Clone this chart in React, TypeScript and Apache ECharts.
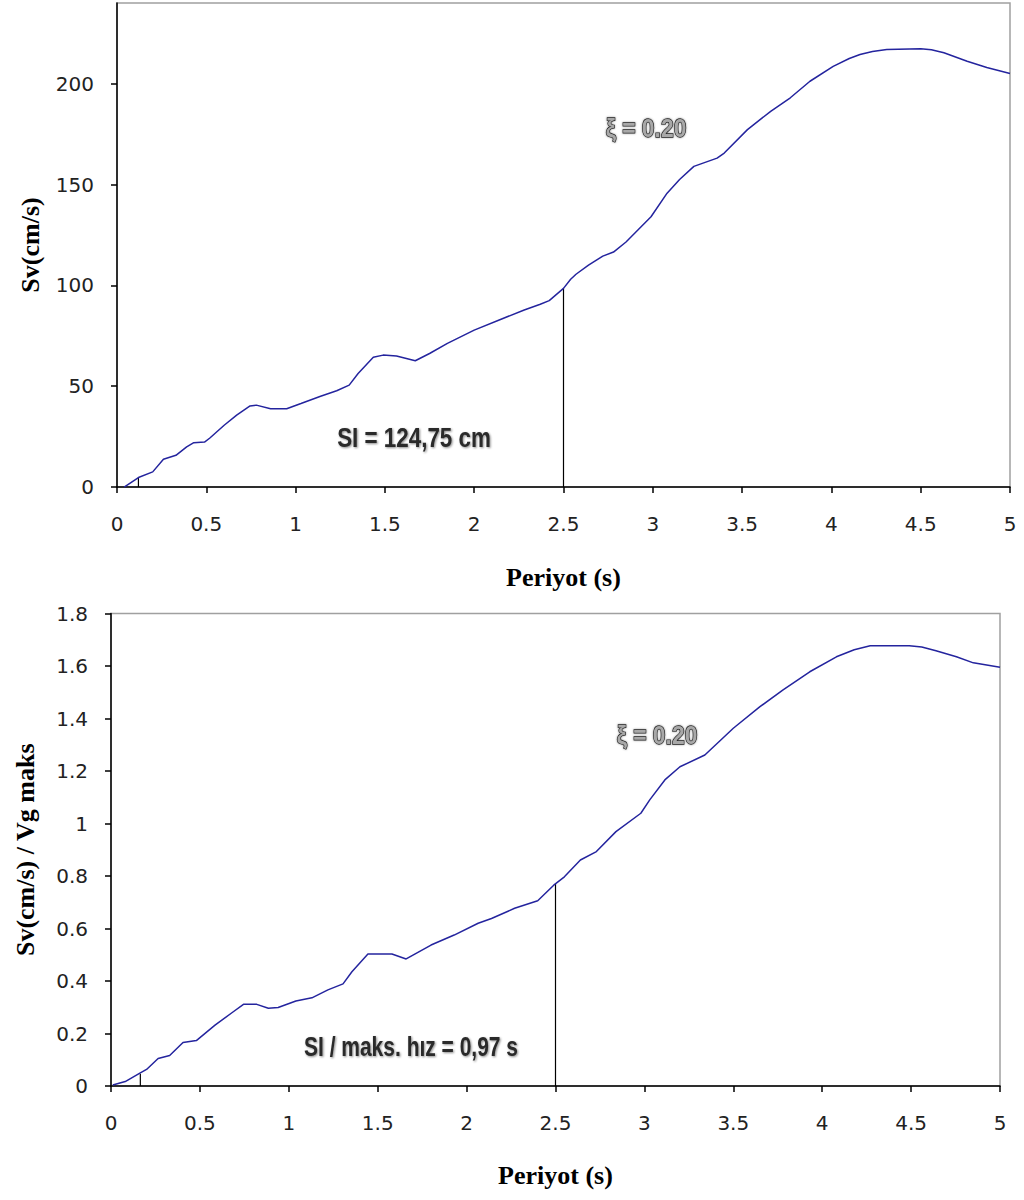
import React, { useEffect, useRef } from "react";
import * as echarts from "echarts";

// Top chart: Sv (cm/s) vs period
const topPeriods = [0.04, 0.12, 0.2, 0.26, 0.33, 0.39, 0.43, 0.49, 0.52, 0.6, 0.67, 0.745, 0.78, 0.86, 0.95, 1.03, 1.14, 1.23, 1.3, 1.35, 1.435, 1.49, 1.565, 1.67, 1.75, 1.85, 2.0, 2.14, 2.28, 2.37, 2.42, 2.5, 2.54, 2.57, 2.64, 2.72, 2.78, 2.85, 2.99, 3.08, 3.15, 3.23, 3.36, 3.4, 3.53, 3.66, 3.77, 3.88, 4.01, 4.1, 4.16, 4.23, 4.31, 4.5, 4.56, 4.63, 4.76, 4.87, 5.0];
const topValues = [0, 4.7, 7.5, 13.8, 15.7, 19.9, 22, 22.3, 24.3, 30.6, 35.6, 40.2, 40.6, 38.8, 38.8, 41.4, 45, 47.7, 50.5, 56.3, 64.3, 65.4, 65, 62.6, 66.2, 71.2, 77.8, 82.8, 87.8, 90.6, 92.4, 98.5, 103, 105.5, 110, 114.5, 116.5, 121.5, 134, 145.7, 152.5, 159, 163.1, 165.6, 177.2, 186.3, 193, 201.2, 208.6, 212.5, 214.5, 216, 217, 217.3, 216.8, 215.3, 211.1, 208, 205];
const topMarkerPeriods = [0.12, 2.5];
const topMarkerValues = [4.7, 98.5];
const topYTicks = [0, 50, 100, 150, 200];

// Bottom chart: Sv / Vg maks vs period
const botPeriods = [0.01, 0.08, 0.16, 0.2, 0.265, 0.33, 0.405, 0.48, 0.585, 0.68, 0.745, 0.82, 0.885, 0.94, 1.04, 1.13, 1.22, 1.305, 1.355, 1.445, 1.58, 1.66, 1.8, 1.93, 2.065, 2.14, 2.27, 2.4, 2.49, 2.55, 2.64, 2.73, 2.84, 2.98, 3.03, 3.115, 3.2, 3.34, 3.5, 3.65, 3.78, 3.93, 4.08, 4.18, 4.27, 4.49, 4.56, 4.64, 4.755, 4.85, 5.0];
const botValues = [0.004, 0.017, 0.048, 0.063, 0.105, 0.116, 0.166, 0.173, 0.232, 0.279, 0.311, 0.311, 0.296, 0.299, 0.324, 0.336, 0.366, 0.389, 0.435, 0.503, 0.503, 0.484, 0.537, 0.575, 0.62, 0.638, 0.677, 0.706, 0.765, 0.797, 0.861, 0.893, 0.969, 1.039, 1.09, 1.166, 1.216, 1.261, 1.363, 1.445, 1.509, 1.578, 1.635, 1.662, 1.677, 1.677, 1.672, 1.658, 1.635, 1.612, 1.595];
const botMarkerPeriods = [0.165, 2.5];
const botMarkerValues = [0.047, 0.77];

const xAxisTitle = "Periyot (s)";
const topYTitle = "Sv(cm/s)";
const botYTitle = "Sv(cm/s) / Vg maks";
const topNote = "SI = 124,75 cm";
const botNote = "SI / maks. hız = 0,97 s";
const dampNote = "ξ = 0.20";

const LINE_COLOR = "#24249e";
const tickFont = { fontFamily: "DejaVu Sans", fontSize: 20, color: "#222" };
const titleFont = { fontFamily: "Liberation Serif", fontWeight: "bold" as const, fontSize: 26, color: "#000" };

function xAxisFor(gridIndex: number) {
  return {
    type: "value",
    gridIndex,
    min: 0,
    max: 5,
    interval: 0.5,
    name: xAxisTitle,
    nameLocation: "middle",
    nameGap: 77,
    nameTextStyle: titleFont,
    axisLine: { show: true, onZero: false, lineStyle: { color: "#000", width: 1.5 } },
    axisTick: { show: true, inside: false, length: 6, lineStyle: { color: "#000", width: 1.5 } },
    axisLabel: { ...tickFont, margin: 27 },
    splitLine: { show: false },
  };
}

export default function App() {
  const ref = useRef<HTMLDivElement>(null);
  useEffect(() => {
    if (!ref.current) return;
    const chart = echarts.init(ref.current, null, { renderer: "svg" });
    const lineSeries = (xi: number, ts: number[], vs: number[]) => ({
      type: "line",
      xAxisIndex: xi,
      yAxisIndex: xi,
      data: ts.map((t, i) => [t, vs[i]]),
      showSymbol: false,
      symbol: "none",
      lineStyle: { color: LINE_COLOR, width: 1.5 },
      z: 3,
    });
    const markerSeries = (xi: number, ts: number[], vs: number[]) =>
      ts.map((t, i) => ({
        type: "line",
        xAxisIndex: xi,
        yAxisIndex: xi,
        data: [
          [t, 0],
          [t, vs[i]],
        ],
        showSymbol: false,
        symbol: "none",
        lineStyle: { color: "#000", width: 1.2 },
        z: 2,
      }));
    const noteText = (text: string, x: number, y: number, sx: number) => ({
      type: "text",
      x,
      y,
      scaleX: sx,
      style: {
        text,
        fontFamily: "Liberation Sans",
        fontWeight: "bold",
        fontSize: 28,
        fill: "#2a2a2a",
        align: "center",
        verticalAlign: "middle",
        textShadowColor: "rgba(0,0,0,0.45)",
        textShadowBlur: 2,
        textShadowOffsetX: 1,
        textShadowOffsetY: 1,
      },
      z: 10,
    });
    const dampText = (x: number, y: number) => ({
      type: "text",
      x,
      y,
      scaleX: 0.88,
      style: {
        text: dampNote,
        fontFamily: "Liberation Sans",
        fontWeight: "bold",
        fontSize: 26,
        fill: "#a8a8a8",
        stroke: "#222",
        lineWidth: 1.4,
        align: "center",
        verticalAlign: "middle",
        textShadowColor: "rgba(0,0,0,0.4)",
        textShadowBlur: 2,
      },
      z: 10,
    });
    chart.setOption({
      animation: false,
      backgroundColor: "#fff",
      grid: [
        { left: 117, top: 3, width: 893, height: 484, show: true, borderColor: "#a0a0a0", borderWidth: 1.5, backgroundColor: "transparent" },
        { left: 111, top: 613.5, width: 889, height: 472.5, show: true, borderColor: "#a0a0a0", borderWidth: 1.5, backgroundColor: "transparent" },
      ],
      xAxis: [xAxisFor(0), { ...xAxisFor(1), nameGap: 76 }],
      yAxis: [
        {
          type: "value",
          gridIndex: 0,
          min: 0,
          max: 240,
          interval: 50,
          name: topYTitle,
          nameLocation: "middle",
          nameGap: 74,
          nameTextStyle: titleFont,
          axisLine: { show: true, onZero: false, lineStyle: { color: "#000", width: 1.5 } },
          axisTick: { show: true, length: 6, customValues: topYTicks, lineStyle: { color: "#000", width: 1.5 } },
          axisLabel: { ...tickFont, margin: 23, customValues: topYTicks },
          splitLine: { show: false },
        },
        {
          type: "value",
          gridIndex: 1,
          min: 0,
          max: 1.8,
          interval: 0.2,
          name: botYTitle,
          nameLocation: "middle",
          nameGap: 73,
          nameTextStyle: titleFont,
          axisLine: { show: true, onZero: false, lineStyle: { color: "#000", width: 1.5 } },
          axisTick: { show: true, length: 6, lineStyle: { color: "#000", width: 1.5 } },
          axisLabel: { ...tickFont, margin: 23 },
          splitLine: { show: false },
        },
      ],
      series: [
        ...markerSeries(0, topMarkerPeriods, topMarkerValues),
        lineSeries(0, topPeriods, topValues),
        ...markerSeries(1, botMarkerPeriods, botMarkerValues),
        lineSeries(1, botPeriods, botValues),
      ],
      graphic: [
        noteText(topNote, 414, 437, 0.8),
        noteText(botNote, 411, 1046, 0.75),
        dampText(646, 128),
        dampText(657, 735),
      ],
    });
    return () => chart.dispose();
  }, []);
  return (
    <div
      ref={ref}
      style={{ position: "absolute", left: 0, top: 0, width: 1024, height: 1200, background: "#fff" }}
    />
  );
}
